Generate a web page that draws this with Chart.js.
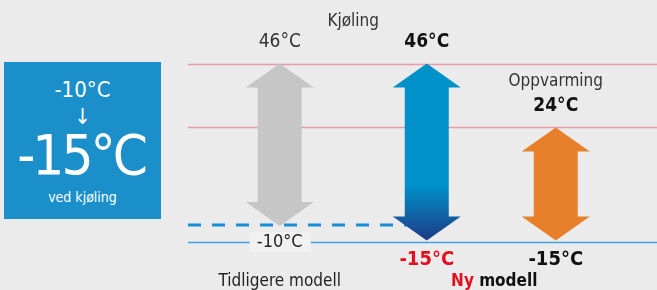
<!DOCTYPE html>
<html lang="no">
<head>
<meta charset="utf-8">
<script src="https://cdn.jsdelivr.net/npm/chart.js@4/dist/chart.umd.min.js"></script>
<style>
  html, body { margin: 0; padding: 0; background: #ebebeb; }
  #wrap { position: relative; width: 657px; height: 290px; overflow: hidden;
          font-family: 'Liberation Sans Narrow', 'DejaVu Sans Condensed', sans-serif; }
  #chart { position: absolute; left: 0; top: 0; }
  #badge { position: absolute; left: 4px; top: 62px; width: 157px; height: 157px;
           background: #1a8fc9; color: #fff; }
  #badge div { position: absolute; left: 0; width: 100%; text-align: center; line-height: 1; }
  #b1 { top: 17px; font-size: 22px; }
  #b2 { top: 44px; font-size: 22px; }
  #b3 { top: 65px; font-size: 56px; letter-spacing: -3px; text-indent: -3px; }
  #b4 { top: 128px; font-size: 14px; }
</style>
</head>
<body>
<div id="wrap">
  <canvas id="chart" width="657" height="290"></canvas>
  <div id="badge">
    <div id="b1">-10°C</div>
    <div id="b2">↓</div>
    <div id="b3">-15°C</div>
    <div id="b4">ved kjøling</div>
  </div>
</div>
<script>
// data
const categories = ['Tidligere modell', 'Ny modell'];
const seriesNames = ['Kjøling', 'Oppvarming'];
const coolingRange = [[-10, 46], [-15, 46]];
const heatingRange = [null, [-15, 24]];
const limitLines = [46, 24];
const oldLowLimit = -10;
const newLowLimit = -15;

const FONT = "'Liberation Sans Narrow', 'DejaVu Sans Condensed', sans-serif";
const deg = v => v + '°C';

function arrowPath(ctx, x, yTop, yBot) {
  const hw = 34, sw = 22, hh = 24;
  ctx.beginPath();
  ctx.moveTo(x, yTop);
  ctx.lineTo(x + hw, yTop + hh);
  ctx.lineTo(x + sw, yTop + hh);
  ctx.lineTo(x + sw, yBot - hh);
  ctx.lineTo(x + hw, yBot - hh);
  ctx.lineTo(x, yBot);
  ctx.lineTo(x - hw, yBot - hh);
  ctx.lineTo(x - sw, yBot - hh);
  ctx.lineTo(x - sw, yTop + hh);
  ctx.lineTo(x - hw, yTop + hh);
  ctx.closePath();
}

function text(ctx, str, x, y, size, weight, color) {
  ctx.font = weight + ' ' + size + 'px ' + FONT;
  ctx.fillStyle = color;
  ctx.textAlign = 'center';
  ctx.textBaseline = 'middle';
  ctx.fillText(str, x, y);
}

const arrowPlugin = {
  id: 'arrows',
  beforeDatasetsDraw(chart) {
    const ctx = chart.ctx, y = chart.scales.y;
    ctx.save();
    // pink limit lines
    ctx.strokeStyle = '#e99aa6';
    ctx.lineWidth = 1.5;
    limitLines.forEach(v => {
      const py = Math.round(y.getPixelForValue(v)) + 0.5;
      ctx.beginPath(); ctx.moveTo(188, py); ctx.lineTo(657, py); ctx.stroke();
    });
    // new low limit (solid)
    ctx.strokeStyle = '#3ea3e0';
    const pb = Math.round(y.getPixelForValue(newLowLimit)) + 1.5;
    ctx.beginPath(); ctx.moveTo(188, pb); ctx.lineTo(657, pb); ctx.stroke();
    // old low limit (dashed)
    const pd = Math.round(y.getPixelForValue(oldLowLimit)) - 1;
    const xNew = chart.getDatasetMeta(0).data[1].x;
    ctx.strokeStyle = '#168ed8';
    ctx.lineWidth = 3;
    ctx.setLineDash([13, 11]);
    ctx.beginPath(); ctx.moveTo(188, pd); ctx.lineTo(xNew, pd); ctx.stroke();
    ctx.restore();
  },
  afterDatasetsDraw(chart) {
    const ctx = chart.ctx, y = chart.scales.y;
    const cool = chart.getDatasetMeta(0).data;
    const heat = chart.getDatasetMeta(1).data;
    ctx.save();

    // Tidligere modell
    const x0 = cool[0].x;
    const t0 = y.getPixelForValue(coolingRange[0][1]);
    const b0 = y.getPixelForValue(coolingRange[0][0]);
    arrowPath(ctx, x0, t0, b0);
    ctx.fillStyle = '#c6c6c6';
    ctx.fill();

    // Ny modell, kjøling
    const x1 = cool[1].x;
    const t1 = y.getPixelForValue(coolingRange[1][1]);
    const b1 = y.getPixelForValue(coolingRange[1][0]);
    const g = ctx.createLinearGradient(0, b1 - 55, 0, b1);
    g.addColorStop(0, '#0091c9');
    g.addColorStop(1, '#1e3a86');
    arrowPath(ctx, x1, t1, b1);
    ctx.fillStyle = g;
    ctx.fill();

    // Ny modell, oppvarming
    const x2 = heat[1].x;
    const t2 = y.getPixelForValue(heatingRange[1][1]);
    const b2 = y.getPixelForValue(heatingRange[1][0]);
    arrowPath(ctx, x2, t2, b2);
    ctx.fillStyle = '#e8802b';
    ctx.fill();

    // labels
    text(ctx, seriesNames[0], (x0 + x1) / 2, 22, 17, '300', '#333');
    text(ctx, deg(coolingRange[0][1]), x0, 42, 19, '400', '#333');
    text(ctx, deg(coolingRange[1][1]), x1, 42, 19, '700', '#111');
    text(ctx, seriesNames[1], x2, 82, 17, '300', '#333');
    text(ctx, deg(heatingRange[1][1]), x2, 106, 19, '700', '#111');

    ctx.fillStyle = '#f1f1f1';
    ctx.fillRect(x0 - 30, b0 + 6, 61, 20);
    text(ctx, deg(coolingRange[0][0]), x0, b0 + 16, 18, '400', '#222');
    text(ctx, deg(coolingRange[1][0]), x1, 260, 20, '700', '#e2101e');
    text(ctx, deg(heatingRange[1][0]), x2, 260, 20, '700', '#111');

    const cx = chart.scales.x;
    text(ctx, categories[0], cx.getPixelForValue(0), 282, 17, '400', '#222');
    ctx.font = '700 17px ' + FONT;
    const wNy = ctx.measureText('Ny ').width;
    const wAll = ctx.measureText(categories[1]).width;
    const xs = cx.getPixelForValue(1) + 3 - wAll / 2;
    ctx.textAlign = 'left';
    ctx.textBaseline = 'middle';
    ctx.fillStyle = '#e2101e';
    ctx.fillText('Ny', xs, 282);
    ctx.fillStyle = '#111';
    ctx.fillText(categories[1].slice(3), xs + wNy, 282);
    ctx.restore();
  }
};

new Chart(document.getElementById('chart'), {
  type: 'bar',
  data: {
    labels: categories,
    datasets: [
      { label: seriesNames[0], data: coolingRange, backgroundColor: 'rgba(0,0,0,0)' },
      { label: seriesNames[1], data: heatingRange, backgroundColor: 'rgba(0,0,0,0)' }
    ]
  },
  options: {
    responsive: false,
    animation: false,
    layout: { padding: { left: 174, right: 60, top: 52, bottom: 35 } },
    datasets: { bar: { skipNull: true, categoryPercentage: 1.22, barPercentage: 1 } },
    plugins: { legend: { display: false }, tooltip: { enabled: false } },
    scales: {
      x: { display: false, offset: true },
      y: { display: false, min: -20, max: 50 }
    }
  },
  plugins: [arrowPlugin]
});
</script>
</body>
</html>
